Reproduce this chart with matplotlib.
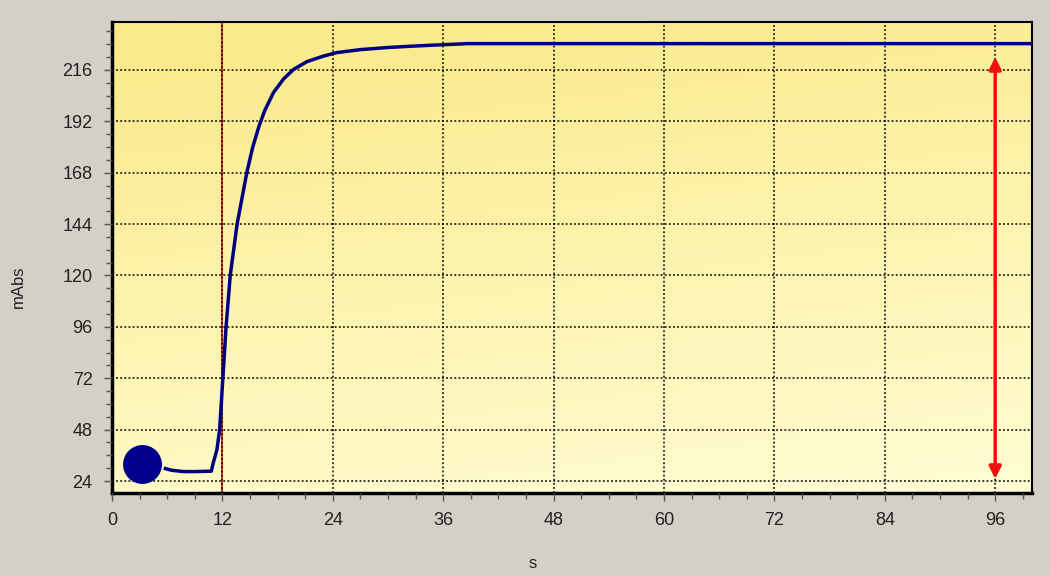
import matplotlib
matplotlib.use("Agg")
import matplotlib.pyplot as plt
import numpy as np
from matplotlib.ticker import MultipleLocator

# absorbance trace
time_s = [5.8, 6.5, 7.8, 9.0, 10.8, 11.0, 11.4, 11.7, 12.05, 12.4, 12.85,
          13.6, 14.65, 15.3, 16.0, 16.6, 17.56, 18.65, 19.74, 21.2, 23.0,
          24.45, 27.0, 30.0, 33.0, 36.0, 38.7, 100.0]
mabs = [29.8, 29.0, 28.4, 28.4, 28.6, 32.4, 38.5, 48, 72, 96, 120,
        144, 168, 180, 190, 197, 205.5, 211.8, 216.3, 219.9, 222.5,
        224.1, 225.5, 226.5, 227.2, 227.8, 228.3, 228.3]

inject_time = 12
start_point = (3.3, 31.8)
arrow_x = 96
arrow_span = (25, 222)

xticks = [0, 12, 24, 36, 48, 60, 72, 84, 96]
yticks = [24, 48, 72, 96, 120, 144, 168, 192, 216]

plt.rcParams['font.family'] = ['Liberation Sans', 'DejaVu Sans']

fig = plt.figure(figsize=(10.5, 5.75), dpi=100, facecolor='#d4d0c8')
ax = fig.add_axes([112 / 1050, 82 / 575, 920 / 1050, 471 / 575])

# yellow gradient background
ny, nx = 200, 200
yy, xx = np.mgrid[0:1:ny * 1j, 0:1:nx * 1j]
t = np.clip(0.8 * yy + 0.2 * xx, 0, 1)  # 0 at top-left
top = np.array([250, 233, 135]) / 255
bot = np.array([255, 253, 212]) / 255
grad = top[None, None, :] * (1 - t[..., None]) + bot[None, None, :] * t[..., None]
ax.imshow(grad, extent=[0, 1, 0, 1], transform=ax.transAxes, aspect='auto',
          zorder=0, origin='upper')

ax.set_xlim(0, 100)
ax.set_ylim(18.4, 238.4)
ax.set_xticks(xticks)
ax.set_yticks(yticks)
ax.xaxis.set_minor_locator(MultipleLocator(3))
ax.yaxis.set_minor_locator(MultipleLocator(6))
ax.tick_params(which='major', length=6, width=1, color='#555555', labelsize=13,
               labelcolor='#222222', pad=8)
ax.tick_params(which='minor', length=4, width=1, color='#555555')
ax.grid(True, which='major', color='black', linestyle=(0, (1.2, 1.5)), linewidth=1.1, zorder=1)
ax.set_axisbelow(False)

for side in ['left', 'bottom']:
    ax.spines[side].set_linewidth(2.5)
for side in ['top', 'right']:
    ax.spines[side].set_linewidth(1.5)

ax.axvline(inject_time, color='#c8401e', linewidth=1.5, zorder=2)
ax.plot(time_s, mabs, color='#00007f', linewidth=2.5, zorder=3)
ax.plot(*start_point, 'o', markersize=27, color='#00008b', zorder=4)
ax.annotate('', xy=(arrow_x, arrow_span[1]), xytext=(arrow_x, arrow_span[0]),
            arrowprops=dict(arrowstyle='<|-|>', color='#ee1111', lw=2.5,
                            mutation_scale=18, shrinkA=0, shrinkB=0), zorder=5)

fig.text(533 / 1050, 12 / 575, 's', ha='center', va='center', fontsize=12, color='#222222')
fig.text(18 / 1050, 288 / 575, 'mAbs', ha='center', va='center', rotation=90,
         fontsize=12, color='#222222')

fig.savefig('out.png', dpi=100, facecolor=fig.get_facecolor())
